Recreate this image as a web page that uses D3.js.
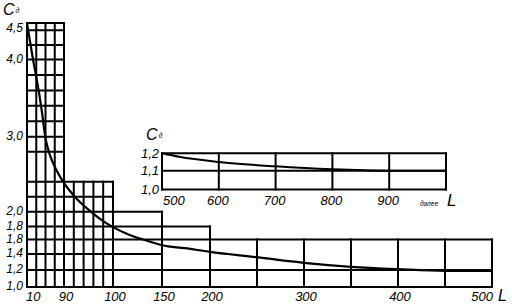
<!DOCTYPE html>
<html><head><meta charset="utf-8">
<script src="https://cdn.jsdelivr.net/npm/d3@7"></script>
<style>
body{margin:0;background:#fff}
svg{display:block}
text{font-family:"Liberation Sans",Arial,sans-serif;font-style:italic;fill:#000}
</style>
</head><body>
<svg id="c" width="512" height="305"></svg>
<script>
// ---- data ----
const yTickValues = [1.0, 1.2, 1.4, 1.6, 1.8, 2.0, 3.0, 4.0, 4.5];
const yTickLabels = ["1,0", "1,2", "1,4", "1,8", "1,8", "2,0", "3,0", "4,0", "4,5"];
const xTickValues = [10, 90, 100, 150, 200, 300, 400, 500];
const xTickLabels = ["10", "90", "100", "150", "200", "300", "400", "500"];
const gridRows    = [4.5, 4.4, 4.2, 4.0, 3.8, 3.6, 3.4, 3.2, 3.0, 2.8, 2.4, 2.2, 2.0, 1.8, 1.6, 1.4, 1.2, 1.0];
const gridRowEnds = [90, 90, 90, 90, 90, 90, 90, 90, 90, 90, 100, 100, 150, 200, 500, 150, 500, 500];
const gridCols    = [10, 30, 50, 70, 90, 92, 94, 96, 98, 100, 150, 200, 250, 300, 350, 400, 450, 500];
const gridColTops = [4.5, 4.5, 4.5, 4.5, 4.5, 2.4, 2.4, 2.4, 2.4, 2.4, 2.0, 1.8, 1.6, 1.6, 1.6, 1.6, 1.6, 1.6];
const curveL = [10, 16.5, 23, 29.5, 36, 42.5, 50, 55.4, 64, 75, 88, 92.2, 95.3, 97.4, 100, 117, 138, 150, 174, 200, 250, 300, 350, 400, 450, 500];
const curveC = [4.5, 4.25, 4.0, 3.79, 3.57, 3.31, 2.98, 2.84, 2.68, 2.54, 2.4, 2.2, 2.01, 1.9, 1.79, 1.67, 1.57, 1.52, 1.48, 1.43, 1.36, 1.29, 1.24, 1.21, 1.19, 1.19];

const insetRows    = [1.0, 1.1, 1.2];
const insetYLabels = ["1,0", "1,1", "1,2"];
const insetCols    = [500, 600, 700, 800, 900, 1000];
const insetXLabels = ["500", "600", "700", "800", "900", "далее"];
const insetCurveL  = [500, 530, 600, 700, 800, 900, 1000];
const insetCurveC  = [1.2, 1.18, 1.15, 1.125, 1.108, 1.1, 1.1];

// ---- scales ----
const x = d3.scaleLinear().domain([10, 90, 100, 150, 200, 500]).range([27, 64, 113, 162, 210, 492]);
const y = d3.scaleLinear().domain([1, 1.2, 1.4, 1.6, 1.8, 2, 3, 4, 4.5])
  .range([287, 270, 254, 239.5, 226.5, 211.7, 136.7, 59.5, 23]);
const xi = d3.scaleLinear().domain([500, 1000]).range([162, 446]);
const yi = d3.scaleLinear().domain([1.0, 1.1, 1.2]).range([189.5, 170.7, 153.3]);

const svg = d3.select("#c");
const gl = svg.append("g").attr("stroke", "#000").attr("stroke-width", 2).attr("stroke-linecap", "square").attr("fill", "none");

// main grid
gl.selectAll("line.r").data(gridRows).join("line").attr("class", "r")
  .attr("x1", x(10)).attr("x2", (d, i) => x(gridRowEnds[i]))
  .attr("y1", d => y(d)).attr("y2", d => y(d));
gl.selectAll("line.c").data(gridCols).join("line").attr("class", "c")
  .attr("x1", d => x(d)).attr("x2", d => x(d))
  .attr("y1", y(1)).attr("y2", (d, i) => y(gridColTops[i]));

// inset grid
gl.selectAll("line.ir").data(insetRows).join("line").attr("class", "ir")
  .attr("x1", xi(500)).attr("x2", xi(1000))
  .attr("y1", d => yi(d)).attr("y2", d => yi(d));
gl.selectAll("line.ic").data(insetCols).join("line").attr("class", "ic")
  .attr("x1", d => xi(d)).attr("x2", d => xi(d))
  .attr("y1", yi(1.0)).attr("y2", yi(1.2));

// curves
const line = d3.line().curve(d3.curveMonotoneX);
svg.append("path").attr("fill", "none").attr("stroke", "#000").attr("stroke-width", 2.2)
  .attr("d", line(curveL.map((l, i) => [x(l), y(curveC[i])])));
svg.append("path").attr("fill", "none").attr("stroke", "#000").attr("stroke-width", 2)
  .attr("d", line(insetCurveL.map((l, i) => [xi(l), yi(insetCurveC[i])])));

// main y labels
svg.selectAll("text.yl").data(yTickValues).join("text").attr("class", "yl")
  .attr("x", 23).attr("text-anchor", "end").attr("font-size", 12)
  .attr("y", d => Math.max(y(d) - 1, 28)).attr("dy", "0.36em")
  .text((d, i) => yTickLabels[i]);

// main x labels
const nX = xTickValues.length;
svg.selectAll("text.xl").data(xTickValues).join("text").attr("class", "xl")
  .attr("x", (d, i) => i === 0 ? x(d) - 1 : i === nX - 1 ? x(d) + 1 : x(d) + 2)
  .attr("text-anchor", (d, i) => i === 0 ? "start" : i === nX - 1 ? "end" : "middle")
  .attr("y", 301).attr("font-size", 13)
  .text((d, i) => xTickLabels[i]);

// inset y labels
svg.selectAll("text.iyl").data(insetRows).join("text").attr("class", "iyl")
  .attr("x", 159).attr("text-anchor", "end").attr("font-size", 13)
  .attr("y", d => yi(d)).attr("dy", "0.36em")
  .text((d, i) => insetYLabels[i]);

// inset x labels
const nI = insetCols.length;
svg.selectAll("text.ixl").data(insetCols).join("text").attr("class", "ixl")
  .attr("x", (d, i) => i === 0 ? xi(d) + 1 : i === nI - 1 ? xi(d) - 8 : xi(d) - 1)
  .attr("text-anchor", (d, i) => i === 0 ? "start" : i === nI - 1 ? "end" : "middle")
  .attr("y", (d, i) => i === nI - 1 ? 206 : 205)
  .attr("font-size", (d, i) => i === nI - 1 ? 6.5 : 13)
  .text((d, i) => insetXLabels[i]);

// axis titles
function cd(px, py) {
  const t = svg.append("text").attr("x", px).attr("y", py).attr("font-size", 16);
  t.append("tspan").text("C");
  t.append("tspan").attr("font-size", 7).attr("dx", 1).attr("dy", -2).text("д");
}
cd(3, 15);
cd(146, 140);
svg.append("text").attr("x", 498).attr("y", 301).attr("font-size", 16).text("L");
svg.append("text").attr("x", 447).attr("y", 206).attr("font-size", 17).text("L");
</script>
</body></html>
